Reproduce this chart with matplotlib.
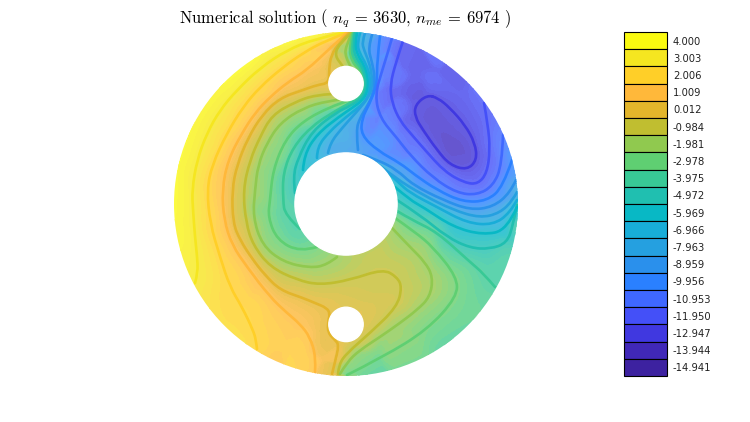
import numpy as np
import matplotlib
matplotlib.use('Agg')
import matplotlib.pyplot as plt
from matplotlib.colors import LinearSegmentedColormap, to_rgb
from matplotlib.patches import Circle, PathPatch
from matplotlib.path import Path
from matplotlib.tri import Triangulation, UniformTriRefiner, CubicTriInterpolator, LinearTriInterpolator

# colorbar, read top to bottom
bar_labels = ['4.000', '3.003', '2.006', '1.009', '0.012', '-0.984', '-1.981', '-2.978', '-3.975', '-4.972',
              '-5.969', '-6.966', '-7.963', '-8.959', '-9.956', '-10.953', '-11.950', '-12.947', '-13.944', '-14.941']
bar_levels = [float(s) for s in bar_labels]
bar_colors = ['#FAFA10', '#F5E620', '#FFCF28', '#FFB83A', '#E3B52B', '#C0BE30', '#90C94F', '#5FCF72', '#38C996', '#20BFB0',
              '#08B8C5', '#18ADD8', '#25A0E0', '#2A90EC', '#2A80FF', '#3F68FF', '#4450F8', '#4038E0', '#4028B8', '#3D22A0']

# contour lines (picture x, picture y)
c_p3 = [(195,283),(198,273),(197,255),(195,237),(193,210),(192,190),(197,160),(207,133),(220,110),(237,90),(260,68),(287,50),(315,39),(345,32)]
c_p2 = [(257,349),(256,340),(253,330),(242,307),(230,287),(220,257),(210,223),(207,190),(212,165),(227,133),(243,107),(260,87),(282,68),(303,53),(325,41),(346,33)]
c_p1 = [(315,372),(316,357),(310,337),(300,324),(287,313),(270,297),(247,267),(232,245),(224,220),(222,190),(228,160),(242,133),(255,113),(270,97),(288,82),(307,70),(328,50),(347,33)]
c_0 = [(332,374),(335,362),(339,345),(335,340),(328,333),(328,322),(330,314),(327,308),(315,303),(303,298),(280,290),(265,275),(253,260),(240,240),(233,223),(232,190),(237,165),(248,138),(262,115),(280,98),(303,90),(317,85),(329,83),(329,70),(331,55),(340,42),(349,33)]
c_m1a = [(338,374),(339,364),(347,353),(370,333),(397,307),(402,287),(397,277),(383,269),(350,280),(320,285),(297,280),(270,267),(253,245),(246,223),(243,190),(250,160),(260,137),(272,115),(295,102),(315,95),(332,94)]
c_m1b = [(343,67),(342,65),(335,56),(338,45),(351,33)]
c_m2a = [(392,228),(410,247),(425,262),(433,277),(430,297),(417,310),(400,323),(380,337),(360,350),(347,362),(340,374)]
c_m2b = [(337,257),(327,265),(310,268),(283,262),(262,245),(253,217),(255,190),(258,165),(267,143),(280,123),(303,108),(327,101),(355,97)]
c_m2c = [(351,67),(345,57),(346,45),(352,33)]
c_m3a = [(395,218),(415,232),(433,247),(457,277),(457,297),(427,330),(383,357),(347,375)]
c_m3b = [(317,247),(300,252),(277,240),(268,217),(270,200),(273,170),(285,140),(303,121),(330,107),(348,101),(359,96),(364,87),(364,80),(360,70),(352,62),(349,47),(353,33)]
c_m4a = [(397,211),(412,220),(437,232),(470,262),(483,273),(495,287)]
c_m4b = [(300,229),(285,215),(283,200),(283,173),(293,147),(313,125),(337,110),(350,103),(360,97),(365,88),(365,79),(361,68),(354,60),(351,48),(354,33)]
c_m5a = [(397,200),(420,215),(447,237),(470,248),(490,249),(507,243),(513,225),(517,205)]
c_m5b = [(295,193),(293,177),(298,158),(312,131),(337,112),(350,106),(362,98),(366,90),(366,78),(362,66),(356,58),(353,47),(355,33)]
c_m6a = [(395,187),(410,200),(423,207),(453,227),(483,235),(507,230),(517,207)]
c_m6b = [(303,170),(304,155),(317,134),(340,116),(352,108),(363,100),(368,90),(368,77),(364,65),(358,56),(355,45),(357,33)]
c_m7a = [(385,170),(398,182),(410,193),(437,207),(467,223),(493,225),(510,213),(517,200)]
c_m7b = [(317,158),(317,147),(330,131),(345,118),(355,110),(366,101),(370,90),(370,76),(366,64),(360,54),(357,44),(360,33)]
c_m8a = [(375,162),(395,178),(423,195),(453,210),(480,218),(500,213),(513,200),(517,192)]
c_m8b = [(328,153),(330,143),(343,127),(352,117),(360,108),(368,98),(372,88),(372,75),(369,62),(364,50),(362,42),(365,33)]
c_m9a = [(363,155),(378,160),(397,170),(413,185),(443,200),(470,210),(493,207),(510,193),(516,180)]
c_m9b = [(358,150),(356,130),(360,118),(366,108),(373,95),(375,78),(372,62),(368,48),(372,35)]
c_m10 = [(380,36),(377,61),(377,85),(369,105),(362,118),(361,135),(378,151),(400,163),(415,175),(437,190),(463,202),(487,201),(503,187),(512,160)]
c_m11 = [(392,38),(388,52),(382,71),(375,95),(380,118),(397,138),(410,155),(433,178),(457,193),(477,195),(493,186),(502,165),(503,135)]
c_m12 = [(403,41),(396,62),(390,85),(392,103),(400,121),(412,135),(425,150),(445,172),(465,183),(478,184),(487,173),(490,150),(488,125),(484,103)]
c_m13 = [(427,95),(415,105),(415,117),(423,130),(437,150),(450,165),(467,170),(477,160),(475,143),(465,125),(450,108),(438,98),(427,95)]

contour_lines = [(1, c_p3), (2, c_p2), (3, c_p1), (4, c_0), (5, c_m1a), (5, c_m1b), (6, c_m2a), (6, c_m2b), (6, c_m2c),
                 (7, c_m3a), (7, c_m3b), (8, c_m4a), (8, c_m4b), (9, c_m5a), (9, c_m5b), (10, c_m6a), (10, c_m6b),
                 (11, c_m7a), (11, c_m7b), (12, c_m8a), (12, c_m8b), (13, c_m9a), (13, c_m9b), (14, c_m10),
                 (15, c_m11), (16, c_m12), (17, c_m13)]

# values along the outer rim, angle in degrees
rim_angle = [180, 165, 150, 135, 120, 105, 97, 75, 65, 55, 45, 37, 30, 24, 15, 8, 5, 2, 0, -3, -10, -20, -29,
             -45, -60, -75, -85, -100, -110, -122, -135, -152, -165, -175]
rim_value = [4.0, 4.0, 4.0, 4.0, 4.0, 3.9, 3.5, -10.9, -12.2, -12.3, -12.2, -11.95, -11.5, -10.95, -9.95, -8.96, -8.0, -6.5, -5.0, -4.7, -4.4, -4.2, -3.97,
             -3.7, -3.6, -3.6, -3.3, 1.0, 1.6, 2.0, 2.5, 3.0, 3.6, 3.9]
# middle of the dark blob and other inner spots read by colour
peak_x = [452, 372, 296, 440, 405, 408, 385, 385, 345, 480, 470]
peak_y = [140, 300, 205, 75, 80, 110, 110, 60, 140, 125, 100]
peak_value = [-13.6, -0.6, -4.5, -12.4, -12.2, -12.4, -11.4, -10.8, -8.2, -12.4, -12.3]


def to_disc(px, py):
    return (np.asarray(px, float) - 346) / 172, (204 - np.asarray(py, float)) / 172


def smooth_path(pts):
    x, y = to_disc(*zip(*pts))
    p = np.column_stack([x, y])
    if pts[0] == pts[-1]:
        p = p[:-1]
        start = (p[-1] + p[0]) / 2
        verts, codes = [start], [Path.MOVETO]
        for i in range(len(p)):
            verts += [p[i], (p[i] + p[(i + 1) % len(p)]) / 2]
            codes += [Path.CURVE3, Path.CURVE3]
        return Path(verts, codes)
    verts, codes = [p[0]], [Path.MOVETO]
    for i in range(1, len(p) - 1):
        end = p[i + 1] if i == len(p) - 2 else (p[i] + p[i + 1]) / 2
        verts += [p[i], end]
        codes += [Path.CURVE3, Path.CURVE3]
    return Path(verts, codes)


pale = [tuple(0.8 * np.array(to_rgb(c)) + 0.2) for c in bar_colors]
fill_cmap = LinearSegmentedColormap.from_list(
    'fill', [((v - bar_levels[-1]) / (bar_levels[0] - bar_levels[-1]), c) for v, c in zip(bar_levels[::-1], pale[::-1])])

# samples of the field: every contour point, the rim and the extra spots
xs, ys, vs = [], [], []
for idx, pts in contour_lines:
    for px, py in pts[:-1] if pts[0] == pts[-1] else pts:
        x, y = to_disc(px, py)
        xs.append(float(x)); ys.append(float(y)); vs.append(bar_levels[idx])
for a, v in zip(rim_angle, rim_value):
    xs.append(1.04 * np.cos(np.radians(a))); ys.append(1.04 * np.sin(np.radians(a))); vs.append(v)
for px, py, v in zip(peak_x, peak_y, peak_value):
    x, y = to_disc(px, py)
    xs.append(float(x)); ys.append(float(y)); vs.append(v)
vs = np.array(vs)

fig = plt.figure(figsize=(7.5, 4.22), dpi=100)
ax = fig.add_axes([174 / 750, 1 - 376 / 422, 344 / 750, 344 / 422])
ax.set_xlim(-1, 1)
ax.set_ylim(-1, 1)
ax.axis('off')

tri = Triangulation(xs, ys)
refiner = UniformTriRefiner(tri)
fine_tri, cubic_vs = refiner.refine_field(vs, triinterpolator=CubicTriInterpolator(tri, vs, kind='min_E'), subdiv=3)
_, linear_vs = refiner.refine_field(vs, triinterpolator=LinearTriInterpolator(tri, vs), subdiv=3)
# cubic overshoots badly where the samples bunch up, keep it near the linear surface
fine_vs = np.clip(linear_vs + np.clip(cubic_vs - linear_vs, -0.35, 0.35), -14.0, 4.0)
fill_levels = np.arange(-14.25, 4.26, 0.25)
cf = ax.tricontourf(fine_tri, fine_vs, levels=fill_levels, cmap=fill_cmap, vmin=bar_levels[-1], vmax=bar_levels[0])
disc = Circle((0, 0), 1, transform=ax.transData)
cf.set_clip_path(disc)

for idx, pts in contour_lines:
    patch = PathPatch(smooth_path(pts), fill=False, edgecolor=bar_colors[idx], lw=1.9, capstyle='round', zorder=3)
    ax.add_patch(patch)
    patch.set_clip_path(disc)

for cx, cy, r in [(0, 0, 0.297), (0, 0.7, 0.1), (0, -0.7, 0.1)]:
    ax.add_patch(Circle((cx, cy), r, color='white', zorder=4))

plt.rcParams['mathtext.fontset'] = 'cm'
fig.text(345 / 750, 1 - 19 / 422, r'Numerical solution ( $n_q$ = 3630, $n_{me}$ = 6974 )',
         family='cmr10', fontsize=11.9, ha='center', va='center')

ax_bar = fig.add_axes([624 / 750, 1 - 376 / 422, 43 / 750, 344 / 422])
ax_bar.set_xlim(0, 1)
ax_bar.set_ylim(len(bar_labels), 0)
ax_bar.axis('off')
ypos = np.arange(len(bar_labels)) + 0.5
ax_bar.barh(ypos, 1, height=1, left=0, color=bar_colors, edgecolor='black', lw=0.8, clip_on=False)
for yp, lab in zip(ypos, bar_labels):
    ax_bar.annotate(lab, (1, yp), xytext=(4.3, -0.7), textcoords='offset points', fontsize=7.2, va='center', ha='left', color='#222222')

fig.savefig('out.png', dpi=100)
